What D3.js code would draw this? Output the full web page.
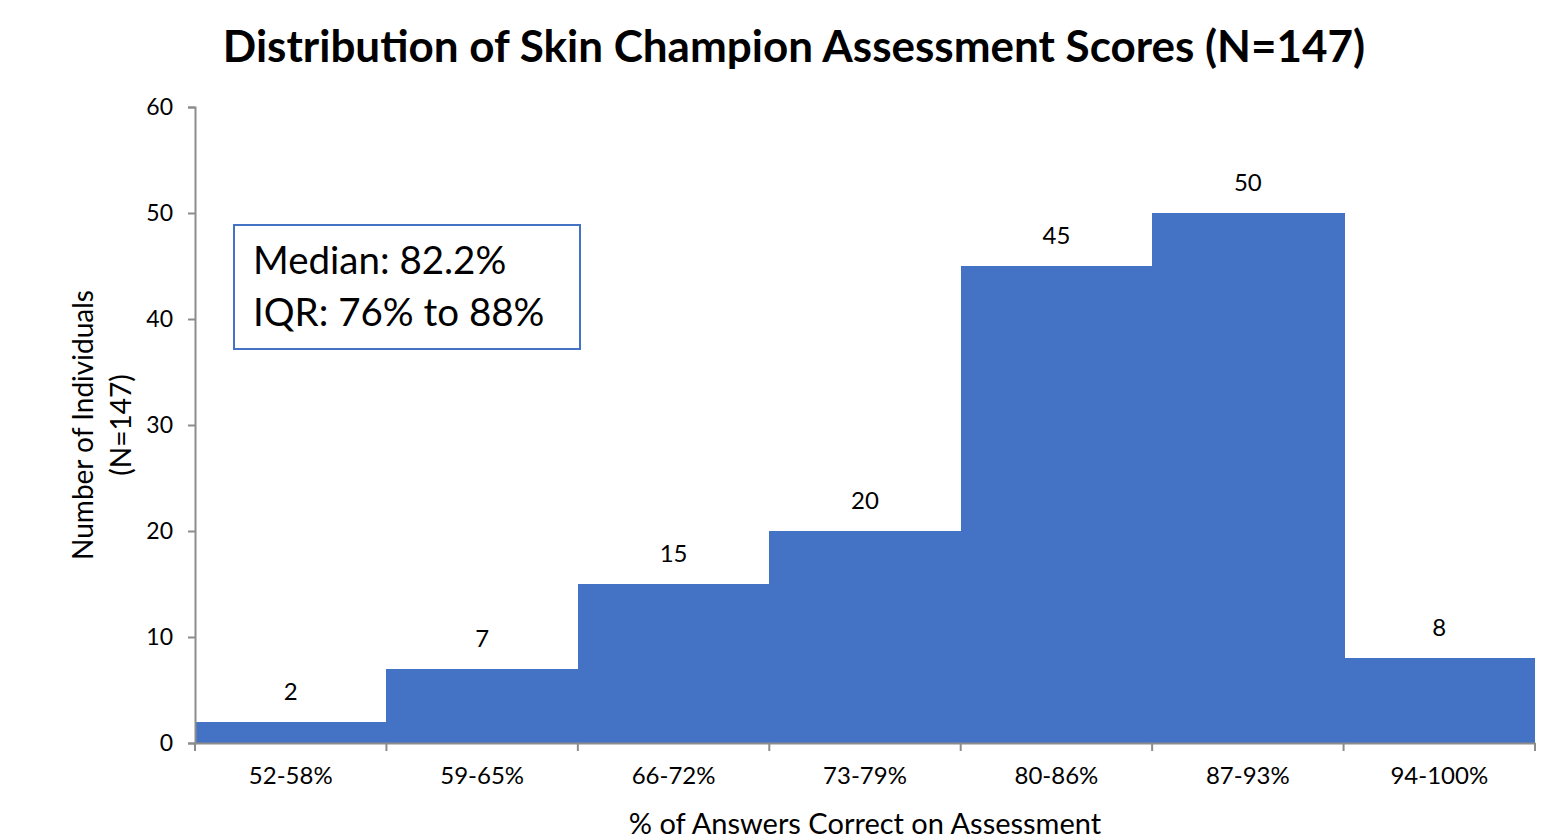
<!DOCTYPE html>
<html>
<head>
<meta charset="utf-8">
<script src="https://cdn.jsdelivr.net/npm/d3@7"></script>
<style>
  body { margin: 0; background: #fff; }
  svg text { font-family: Lato, "Open Sans", sans-serif; fill: #000; }
</style>
</head>
<body>
<svg id="chart" width="1548" height="840"></svg>
<script>
// histogram bins and counts
const bins = ["52-58%", "59-65%", "66-72%", "73-79%", "80-86%", "87-93%", "94-100%"]
const counts = [2, 7, 15, 20, 45, 50, 8]
const yTicks = [0, 10, 20, 30, 40, 50, 60]
const statLines = ["Median: 82.2%", "IQR: 76% to 88%"]

const svg = d3.select("#chart")
const plotLeft = 195, plotRight = 1535, plotTop = 107, plotBottom = 743

const x = d3.scaleBand().domain(bins).range([plotLeft, plotRight]).padding(0)
const y = d3.scaleLinear().domain([0, 60]).range([plotBottom, plotTop])

// title
svg.append("text")
  .attr("x", 794).attr("y", 62)
  .attr("text-anchor", "middle")
  .style("font-size", "44px").style("font-weight", "bold")
  .text("Distribution of Skin Champion Assessment Scores (N=147)")

// bars (slightly overlapped so no seams show)
svg.selectAll("rect.bar")
  .data(counts)
  .join("rect")
  .attr("class", "bar")
  .attr("x", (d, i) => x(bins[i]))
  .attr("width", (d, i) => i < bins.length - 1 ? x.bandwidth() + 1 : x.bandwidth())
  .attr("y", d => y(d))
  .attr("height", d => y(0) - y(d))
  .attr("fill", "#4472C4")
  .attr("shape-rendering", "crispEdges")

// value labels
svg.selectAll("text.val")
  .data(counts)
  .join("text")
  .attr("class", "val")
  .attr("x", (d, i) => x(bins[i]) + x.bandwidth() / 2)
  .attr("y", d => y(d) - 22)
  .attr("text-anchor", "middle")
  .style("font-size", "24px")
  .text(d => d)

// y axis
const yAxis = svg.append("g")
  .attr("transform", `translate(${plotLeft},0)`)
  .call(d3.axisLeft(y).tickValues(yTicks).tickSize(7).tickPadding(15))
yAxis.select(".domain").attr("stroke", "#8c8c8c").attr("stroke-width", 2)
yAxis.selectAll(".tick line").attr("stroke", "#8c8c8c").attr("stroke-width", 2)
yAxis.selectAll(".tick text").style("font-size", "23px").style("font-family", "Lato, sans-serif")

// x axis with ticks at bin edges
const xAxis = svg.append("g")
  .attr("transform", `translate(0,${plotBottom})`)
  .call(d3.axisBottom(x).tickSize(0).tickPadding(24))
xAxis.select(".domain").attr("stroke", "#8c8c8c").attr("stroke-width", 2)
xAxis.selectAll(".tick text").style("font-size", "24px").style("font-family", "Lato, sans-serif")
const edges = bins.map(b => x(b)).concat([plotRight])
xAxis.selectAll("line.edge")
  .data(edges)
  .join("line")
  .attr("class", "edge")
  .attr("x1", d => d).attr("x2", d => d)
  .attr("y1", 0).attr("y2", 8)
  .attr("stroke", "#8c8c8c").attr("stroke-width", 2)

// axis titles
svg.append("text")
  .attr("x", 865).attr("y", 834)
  .attr("text-anchor", "middle")
  .style("font-size", "29px")
  .text("% of Answers Correct on Assessment")

const yTitle = svg.append("text")
  .attr("transform", "translate(93,425) rotate(-90)")
  .attr("text-anchor", "middle")
  .style("font-size", "28px")
yTitle.append("tspan").attr("x", 0).attr("dy", 0).text("Number of Individuals")
yTitle.append("tspan").attr("x", 0).attr("dy", 38).text("(N=147)")

// stats box
svg.append("rect")
  .attr("x", 234).attr("y", 225)
  .attr("width", 346).attr("height", 124)
  .attr("fill", "#fff")
  .attr("stroke", "#4472C4").attr("stroke-width", 2)
svg.selectAll("text.stat")
  .data(statLines)
  .join("text")
  .attr("class", "stat")
  .attr("x", 253)
  .attr("y", (d, i) => 274 + i * 52)
  .style("font-size", "38.5px")
  .text(d => d)
</script>
</body>
</html>
